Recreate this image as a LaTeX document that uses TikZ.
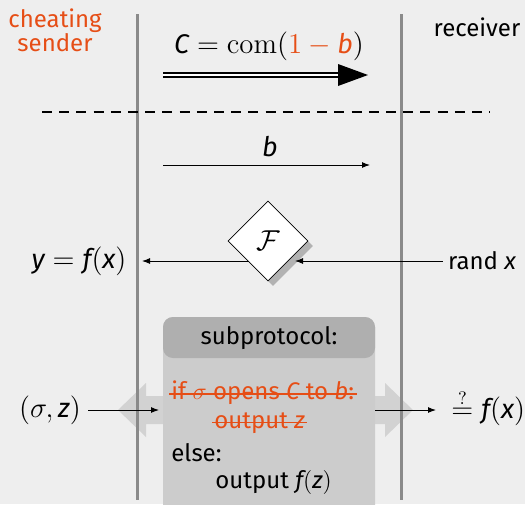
\documentclass[tikz,border=0pt]{standalone}
\usepackage[no-math]{fontspec}
\setmainfont{Fira Sans}
\usetikzlibrary{arrows.meta,shapes.geometric,shadows,calc}
\definecolor{bg}{HTML}{EEEEEE}
\definecolor{acc}{RGB}{230,78,22}
\definecolor{lifeline}{HTML}{8A8A8A}
\definecolor{boxfill}{HTML}{CCCCCC}
\definecolor{boxhead}{HTML}{AFAFAF}
\definecolor{fat}{HTML}{D2D2D2}
\newcommand\mv[1]{\mbox{\itshape #1}}
\tikzset{
  txt/.style={font=\fontsize{12}{14}\selectfont, inner sep=1pt},
  mth/.style={font=\fontsize{13.5}{16}\selectfont, inner sep=1pt},
  life/.style={draw=lifeline, line width=1.5pt},
  arr/.style={-{Latex[length=4pt,width=3pt]}, line width=0.5pt},
  lft/.style={txt, anchor=west},
  strike/.style={draw=acc, line width=0.6pt},
}
\begin{document}
\begin{tikzpicture}[x=0.5pt,y=-0.5pt]
\fill[bg] (0,0) rectangle (525,504);
\useasboundingbox (0,0) rectangle (525,504);
% fat double arrow behind
\fill[fat] (118,410) -- (146,383) -- (146,396) -- (385,396) -- (385,383) -- (413,410) -- (385,437) -- (385,424) -- (146,424) -- (146,437) -- cycle;
% lifelines
\coordinate (sTop) at (137,14); \coordinate (sBot) at (137,500);
\coordinate (rTop) at (401,14); \coordinate (rBot) at (401,500);
\draw[life] (sTop) -- (sBot);
\draw[life] (rTop) -- (rBot);
% labels
\node[txt, text=acc, align=center] (sender) at (55,30) {cheating\\[-2pt]sender};
\node[txt] (receiver) at (477,27) {receiver};
% commitment
\node[mth] (comlab) at (269,46) {$\mv{C} = \mathrm{com}(\textcolor{acc}{1 - \mv{b}})$};
\coordinate (c0) at (163,75); \coordinate (c1) at (346,75); \coordinate (ctip) at (368,75);
\draw[line width=1.2pt, double=white, double distance=0.9pt] (c0) -- (c1);
\fill (ctip) -- ++(-30,-11) -- ++(0,22) -- cycle;
% dashed
\coordinate (d0) at (42,112); \coordinate (d1) at (490,112);
\draw[line width=0.8pt, dash pattern=on 5pt off 3.6pt] (d0) -- (d1);
% b
\node[mth] (blab) at (270,147) {\mv{b}};
\coordinate (b0) at (163,165); \coordinate (b1) at (370,165);
\draw[arr] (b0) -- (b1);
% F
\node[mth, draw, fill=white, diamond, aspect=1, minimum size=40pt, line width=0.4pt,
  drop shadow={shadow xshift=2.5pt, shadow yshift=-2.5pt, fill=black!30, opacity=1}] (F) at (268,241) {$\mathcal{F}$};
\node[mth] (y) at (79,261) {$\mv{y} = \mv{f}(\mv{x})$};
\node[txt] (randx) at (482,261) {rand \mv{x}};
\coordinate (fin) at (295,261);
\coordinate (fout) at (249,261);
\coordinate (yin) at (142,261);
\draw[arr] ($(randx.west)+(-3,0)$) -- (fin);
\draw[arr] (fout) -- (yin);
% subprotocol box
\begin{scope}
\clip (0,0) rectangle (525,504);
\fill[boxfill, rounded corners=5pt] (163,317) rectangle (375,530);
\fill[boxhead, rounded corners=5pt] (163,317) rectangle (375,358);
\end{scope}
\node[txt] (sub) at (269,338) {subprotocol:};
\node[lft, text=acc] (l1) at (169,393) {if $\sigma$ opens \mv{C} to \mv{b}:};
\node[lft, text=acc] (l2) at (212,423) {output \mv{z}};
\node[lft] (l3) at (169,453) {else:};
\node[lft] (l4) at (213,482) {output \mv{f}$(\mv{z})$};
\draw[strike] ([yshift=2.9pt]l1.base west) -- ([yshift=2.9pt]l1.base east);
\draw[strike] ([yshift=2.9pt]l2.base west) -- ([yshift=2.9pt]l2.base east);
% io arrows
\node[mth] (sz) at (50,410) {$(\sigma, \mv{z})$};
\node[mth, anchor=west] (chk) at (449,408) {$\stackrel{?}{=} \mv{f}(\mv{x})$};
\coordinate (boxL) at (159,410);
\coordinate (boxR) at (375,410);
\coordinate (chkin) at (436,410);
\draw[arr] ($(sz.east)+(5,0)$) -- (boxL);
\draw[arr] (boxR) -- (chkin);
\end{tikzpicture}
\end{document}
